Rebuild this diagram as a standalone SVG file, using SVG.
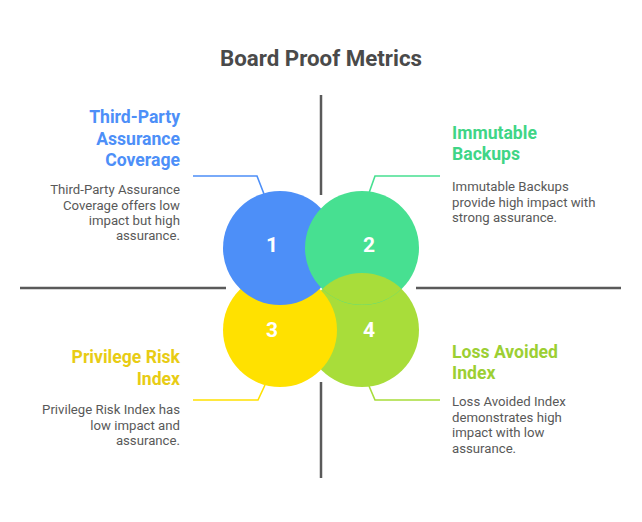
<svg xmlns="http://www.w3.org/2000/svg" width="642" height="522" viewBox="0 0 642 522">
<style>
  .title{font-family:Roboto,"Liberation Sans",sans-serif;font-weight:700;font-size:22.3px;fill:#4a4a4a}
  .head{font-family:Roboto,"Liberation Sans",sans-serif;font-weight:700;font-size:17.6px}
  .desc{font-family:Roboto,"Liberation Sans",sans-serif;font-size:13.2px;fill:#595959}
  .num{font-family:Roboto,"Liberation Sans",sans-serif;font-weight:700;font-size:21px;fill:#ffffff;text-anchor:middle}
  .axis{stroke:#5a5a5a;stroke-width:2.5;fill:none}
  .conn{stroke-width:1.6;fill:none}
</style>
<defs>
  <clipPath id="clipGreen"><circle cx="362" cy="248" r="56.8"/></clipPath>
</defs>
<rect width="642" height="522" fill="#ffffff"/>
<text class="title" x="321" y="66" text-anchor="middle">Board Proof Metrics</text>

<g id="axes">
  <line class="axis" x1="321" y1="95" x2="321" y2="195"/>
  <line class="axis" x1="321" y1="382" x2="321" y2="478"/>
  <line class="axis" x1="20" y1="288" x2="226" y2="288"/>
  <line class="axis" x1="416" y1="288" x2="621" y2="288"/>
</g>

<g id="connectors">
  <polyline class="conn" stroke="#4d8ff8" points="193,176 257,176 264,194"/>
  <polyline class="conn" stroke="#47e091" points="440,176 375,176 369,193"/>
  <polyline class="conn" stroke="#ffe100" points="193,400 258,400 265,385"/>
  <polyline class="conn" stroke="#a8dd3a" points="440,400 375,400 369,386"/>
</g>

<g id="circles">
  <circle id="c4" cx="362" cy="330" r="57" fill="#a8dd3a"/>
  <circle id="c3" cx="280" cy="330" r="57" fill="#ffe100"/>
  <circle id="c1" cx="280" cy="248" r="57" fill="#4d8ff8"/>
  <circle id="c2" cx="362" cy="248" r="57" fill="#47e091"/>
  <circle cx="362" cy="330" r="57" fill="#a8dd3a" clip-path="url(#clipGreen)"/>
</g>

<g id="node1">
  <text class="num" x="272" y="252">1</text>
  <text class="head" fill="#4d8ff8" text-anchor="end"><tspan x="180" y="123">Third-Party</tspan><tspan x="180" y="145">Assurance</tspan><tspan x="180" y="166">Coverage</tspan></text>
  <text class="desc" text-anchor="end"><tspan x="180" y="194">Third-Party Assurance</tspan><tspan x="180" y="210">Coverage offers low</tspan><tspan x="180" y="225">impact but high</tspan><tspan x="180" y="240">assurance.</tspan></text>
</g>
<g id="node2">
  <text class="num" x="369" y="252">2</text>
  <text class="head" fill="#3fd586"><tspan x="452" y="139">Immutable</tspan><tspan x="452" y="160">Backups</tspan></text>
  <text class="desc"><tspan x="452" y="191">Immutable Backups</tspan><tspan x="452" y="207">provide high impact with</tspan><tspan x="452" y="222">strong assurance.</tspan></text>
</g>
<g id="node3">
  <text class="num" x="272" y="337">3</text>
  <text class="head" fill="#e8cc14" text-anchor="end"><tspan x="180" y="363">Privilege Risk</tspan><tspan x="180" y="385">Index</tspan></text>
  <text class="desc" text-anchor="end"><tspan x="180" y="414">Privilege Risk Index has</tspan><tspan x="180" y="430">low impact and</tspan><tspan x="180" y="445">assurance.</tspan></text>
</g>
<g id="node4">
  <text class="num" x="369" y="337">4</text>
  <text class="head" fill="#9ccf33"><tspan x="452" y="358">Loss Avoided</tspan><tspan x="452" y="379">Index</tspan></text>
  <text class="desc"><tspan x="452" y="406">Loss Avoided Index</tspan><tspan x="452" y="422">demonstrates high</tspan><tspan x="452" y="437">impact with low</tspan><tspan x="452" y="453">assurance.</tspan></text>
</g>
</svg>
